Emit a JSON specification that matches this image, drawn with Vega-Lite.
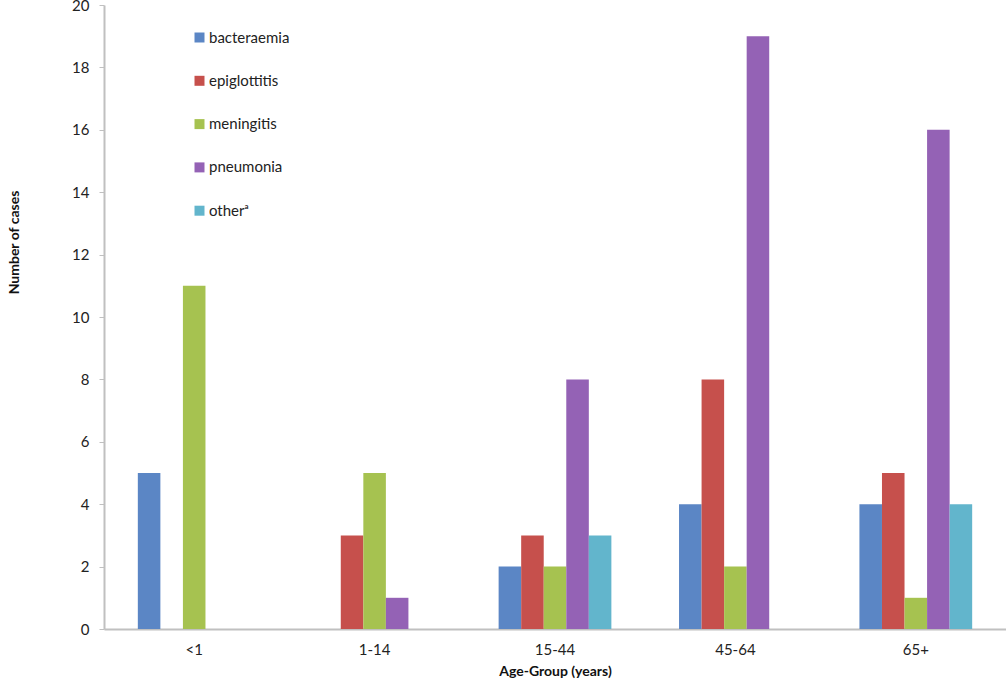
{
  "$schema": "https://vega.github.io/schema/vega-lite/v6.json",
  "autosize": {"type": "none"},
  "width": 902,
  "height": 624,
  "padding": {"left": 104, "top": 5, "right": 0, "bottom": 56},
  "background": "white",
  "config": {
    "font": "Lato",
    "view": {"stroke": null}
  },
  "data": {
    "values": [
      {"age": "<1", "type": "bacteraemia", "cases": 5},
      {"age": "<1", "type": "epiglottitis", "cases": 0},
      {"age": "<1", "type": "meningitis", "cases": 11},
      {"age": "<1", "type": "pneumonia", "cases": 0},
      {"age": "<1", "type": "otherᵃ", "cases": 0},
      {"age": "1-14", "type": "bacteraemia", "cases": 0},
      {"age": "1-14", "type": "epiglottitis", "cases": 3},
      {"age": "1-14", "type": "meningitis", "cases": 5},
      {"age": "1-14", "type": "pneumonia", "cases": 1},
      {"age": "1-14", "type": "otherᵃ", "cases": 0},
      {"age": "15-44", "type": "bacteraemia", "cases": 2},
      {"age": "15-44", "type": "epiglottitis", "cases": 3},
      {"age": "15-44", "type": "meningitis", "cases": 2},
      {"age": "15-44", "type": "pneumonia", "cases": 8},
      {"age": "15-44", "type": "otherᵃ", "cases": 3},
      {"age": "45-64", "type": "bacteraemia", "cases": 4},
      {"age": "45-64", "type": "epiglottitis", "cases": 8},
      {"age": "45-64", "type": "meningitis", "cases": 2},
      {"age": "45-64", "type": "pneumonia", "cases": 19},
      {"age": "45-64", "type": "otherᵃ", "cases": 0},
      {"age": "65+", "type": "bacteraemia", "cases": 4},
      {"age": "65+", "type": "epiglottitis", "cases": 5},
      {"age": "65+", "type": "meningitis", "cases": 1},
      {"age": "65+", "type": "pneumonia", "cases": 16},
      {"age": "65+", "type": "otherᵃ", "cases": 4}
    ]
  },
  "mark": {"type": "bar"},
  "encoding": {
    "x": {
      "field": "age",
      "type": "nominal",
      "sort": ["<1", "1-14", "15-44", "45-64", "65+"],
      "scale": {"paddingInner": 0.375, "paddingOuter": 0.1875},
      "axis": {
        "title": "Age-Group (years)",
        "titleFont": "Lato",
        "titleFontSize": 14,
        "titleFontWeight": "bold",
        "titleColor": "#111",
        "titlePadding": 7,
        "labelAngle": 0,
        "labelFontSize": 15,
        "labelColor": "#222",
        "labelPadding": 13,
        "ticks": false,
        "domainColor": "#c0c0c0",
        "domainWidth": 2
      }
    },
    "xOffset": {
      "field": "type",
      "type": "nominal",
      "sort": ["bacteraemia", "epiglottitis", "meningitis", "pneumonia", "otherᵃ"],
      "scale": {"paddingInner": 0, "paddingOuter": 0}
    },
    "y": {
      "field": "cases",
      "type": "quantitative",
      "scale": {"domain": [0, 20]},
      "axis": {
        "title": "Number of cases",
        "titleFontSize": 14,
        "titleFontWeight": "bold",
        "titleColor": "#111",
        "titleX": -97,
        "titleY": 237,
        "titleAngle": -90,
        "titleAlign": "center",
        "titleBaseline": "top",
        "values": [0, 2, 4, 6, 8, 10, 12, 14, 16, 18, 20],
        "grid": false,
        "labelFontSize": 15,
        "labelColor": "#222",
        "labelPadding": 10,
        "tickSize": 5,
        "tickColor": "#c0c0c0",
        "domainColor": "#c0c0c0",
        "domainWidth": 2
      }
    },
    "color": {
      "field": "type",
      "type": "nominal",
      "sort": ["bacteraemia", "epiglottitis", "meningitis", "pneumonia", "otherᵃ"],
      "scale": {
        "domain": ["bacteraemia", "epiglottitis", "meningitis", "pneumonia", "otherᵃ"],
        "range": ["#5b86c5", "#c6504c", "#a6c250", "#9462b5", "#62b5cc"]
      },
      "legend": {
        "title": null,
        "orient": "none",
        "legendX": 88,
        "legendY": 25,
        "symbolType": "square",
        "symbolSize": 100,
        "symbolStrokeWidth": 0,
        "labelFontSize": 15,
        "labelColor": "#222",
        "labelOffset": 2,
        "rowPadding": 27.3
      }
    }
  }
}
